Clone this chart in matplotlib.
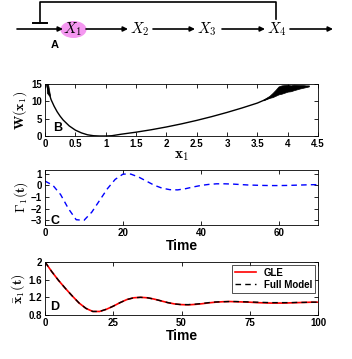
import numpy as np
import matplotlib
matplotlib.use("Agg")
import matplotlib.pyplot as plt
from matplotlib.patches import Ellipse

plt.rcParams['font.family'] = ['Liberation Sans', 'DejaVu Sans']
plt.rcParams['mathtext.fontset'] = 'cm'

# ---- data ----
# panel B: potential W(x1)
x1_pts = [0.03, 0.06, 0.1, 0.15, 0.2, 0.25, 0.3, 0.4, 0.5, 0.6, 0.7, 0.8, 0.9, 1.0,
          1.1, 1.25, 1.5, 1.75, 2.0, 2.25, 2.5, 2.75, 3.0, 3.25, 3.5, 3.7]
W_pts = [14.5, 12.8, 10.5, 8.6, 7.0, 5.7, 4.6, 2.9, 1.7, 0.9, 0.35, 0.08, 0.0, 0.0,
         0.08, 0.5, 1.1, 1.8, 2.6, 3.5, 4.5, 5.6, 6.8, 8.1, 9.5, 11.0]
# noisy sampling band at the ends
band_x = [3.6, 3.7, 3.75, 3.8, 3.85, 3.9, 4.0, 4.05, 4.1, 4.2, 4.25, 4.3, 4.35]
band_lo = [10.3, 11.0, 11.2, 11.6, 12.0, 12.2, 12.8, 12.9, 13.2, 13.7, 13.9, 14.1, 14.3]
band_hi = [10.5, 11.6, 12.4, 13.3, 14.3, 14.6, 14.8, 14.6, 14.8, 14.7, 14.7, 14.6, 14.6]
left_x = [0.03, 0.05, 0.08]
left_lo = [12.5, 12.0, 11.5]
left_hi = [15.0, 15.0, 12.0]

# panel C: memory kernel Gamma_1(t)
t_c = [0, 2, 4, 6, 8, 10, 12, 14, 16, 18, 20, 22, 24, 26, 28, 30, 32, 34, 36, 38,
       40, 42, 44, 46, 48, 50, 52, 54, 56, 58, 60, 62, 64, 66, 68, 70]
gamma = [0.35, 0.0, -0.8, -2.0, -2.95, -3.0, -2.3, -1.3, -0.3, 0.5, 0.95, 0.95, 0.7,
         0.35, 0.0, -0.25, -0.38, -0.4, -0.3, -0.15, -0.02, 0.07, 0.12, 0.12, 0.1,
         0.06, 0.02, 0.0, -0.02, -0.03, -0.03, -0.02, 0.0, 0.02, 0.04, 0.05]

# panel D: mean x1(t)
t_d = [0, 2.5, 5, 7.5, 10, 12.5, 15, 17.5, 20, 22.5, 25, 27.5, 30, 32.5, 35, 37.5,
       40, 42.5, 45, 47.5, 50, 52.5, 55, 57.5, 60, 62.5, 65, 67.5, 70, 72.5, 75,
       77.5, 80, 82.5, 85, 87.5, 90, 92.5, 95, 97.5, 100]
gle = [2.0, 1.78, 1.58, 1.40, 1.23, 1.07, 0.95, 0.88, 0.88, 0.93, 1.0, 1.08, 1.15,
       1.19, 1.2, 1.19, 1.16, 1.12, 1.08, 1.05, 1.035, 1.03, 1.04, 1.055, 1.075,
       1.09, 1.1, 1.105, 1.1, 1.095, 1.09, 1.08, 1.075, 1.07, 1.07, 1.07, 1.075,
       1.08, 1.085, 1.09, 1.09]
full = [2.0, 1.78, 1.58, 1.40, 1.23, 1.07, 0.95, 0.88, 0.88, 0.93, 1.0, 1.08, 1.15,
        1.19, 1.2, 1.19, 1.16, 1.12, 1.08, 1.05, 1.035, 1.035, 1.045, 1.06, 1.08,
        1.095, 1.1, 1.105, 1.105, 1.1, 1.095, 1.09, 1.085, 1.08, 1.08, 1.08, 1.08,
        1.085, 1.085, 1.09, 1.09]

W, H = 352, 359
fig = plt.figure(figsize=(W / 100, H / 100), dpi=100)


def style(ax):
    ax.tick_params(direction='in', top=True, right=True, length=3, width=0.6,
                   labelsize=7, pad=2)
    for lab in ax.get_xticklabels() + ax.get_yticklabels():
        lab.set_fontweight('bold')
    for s in ax.spines.values():
        s.set_linewidth(0.6)


def box(top, bottom):
    return [45 / W, 1 - bottom / H, 273 / W, (bottom - top) / H]


# ---- panel A: network diagram (pixel coords) ----
axa = fig.add_axes([0, 1 - 55 / H, 1, 55 / H])
axa.set_xlim(0, W)
axa.set_ylim(55, 0)
axa.axis('off')
axa.add_patch(Ellipse((73.5, 29.5), 26, 17, color='#f497f0', lw=0))
nodes_x = [73, 140, 207, 277]
for i, nx in enumerate(nodes_x):
    axa.text(nx, 29, r'$X_%d$' % (i + 1), fontsize=11, ha='center', va='center')
arrows = [(17, 63), (86, 128), (153, 195), (222, 265), (290, 333)]
for a, b in arrows:
    axa.annotate('', xy=(b, 29), xytext=(a, 29),
                 arrowprops=dict(arrowstyle='-|>', lw=1.2, color='black',
                                 mutation_scale=7, shrinkA=0, shrinkB=0))
axa.plot([276, 276, 40, 40], [19, 2, 2, 23], color='black', lw=1.2)
axa.plot([33, 47], [23, 23], color='black', lw=1.4)
axa.text(55, 45, 'A', fontsize=8, fontweight='bold', ha='center', va='center')

# ---- panel B ----
axb = fig.add_axes(box(84, 136))
axb.plot(x1_pts, W_pts, color='black', lw=1.0)
axb.fill_between(band_x, band_lo, band_hi, color='black', lw=0.5)
axb.fill_between(left_x, left_lo, left_hi, color='black', lw=0.5)
axb.set_xlim(0, 4.5)
axb.set_ylim(0, 15)
axb.set_xticks([0, 0.5, 1, 1.5, 2, 2.5, 3, 3.5, 4, 4.5])
axb.set_xticklabels(['0', '0.5', '1', '1.5', '2', '2.5', '3', '3.5', '4', '4.5'])
axb.set_yticks([0, 5, 10, 15])
axb.set_xlabel(r'$\mathbf{x_1}$', fontsize=11, labelpad=0)
axb.set_ylabel(r'$\mathbf{W(x_1)}$', fontsize=10, labelpad=2)
axb.text(0.028, 0.1, 'B', transform=axb.transAxes, fontsize=9, fontweight='bold')
style(axb)

# ---- panel C ----
axc = fig.add_axes(box(170, 225))
axc.plot(t_c, gamma, color='blue', lw=1.0, ls=(0, (4, 3)))
axc.set_xlim(0, 70)
axc.set_ylim(-3.4, 1.3)
axc.set_xticks([0, 20, 40, 60])
axc.set_yticks([1, 0, -1, -2, -3])
axc.set_yticklabels(['1', '0', '\u22121', '\u22122', '\u22123'])
axc.set_xlabel('Time', fontsize=10, fontweight='bold', labelpad=1)
axc.set_ylabel(r'$\mathbf{\Gamma_1(t)}$', fontsize=10, labelpad=1)
axc.text(0.02, 0.02, 'C', transform=axc.transAxes, fontsize=9, fontweight='bold')
style(axc)

# ---- panel D ----
axd = fig.add_axes(box(262, 315))
axd.plot(t_d, gle, color='red', lw=1.2, label='GLE')
axd.plot(t_d, full, color='black', lw=1.0, ls=(0, (4, 3)), label='Full Model')
axd.set_xlim(0, 100)
axd.set_ylim(0.8, 2)
axd.set_xticks([0, 25, 50, 75, 100])
axd.set_yticks([0.8, 1.2, 1.6, 2])
axd.set_yticklabels(['0.8', '1.2', '1.6', '2'])
axd.set_xlabel('Time', fontsize=10, fontweight='bold', labelpad=1)
axd.set_ylabel(r'$\mathbf{\bar{x}_1(t)}$', fontsize=10, labelpad=1)
axd.text(0.02, 0.09, 'D', transform=axd.transAxes, fontsize=9, fontweight='bold')
leg = axd.legend(loc='upper right', fontsize=7, frameon=True, fancybox=False,
                 edgecolor='black', borderpad=0.3, handlelength=2.2,
                 labelspacing=0.2, borderaxespad=0.3)
leg.get_frame().set_linewidth(0.6)
for txt in leg.get_texts():
    txt.set_fontweight('bold')
style(axd)

fig.savefig('out.png', dpi=100)
